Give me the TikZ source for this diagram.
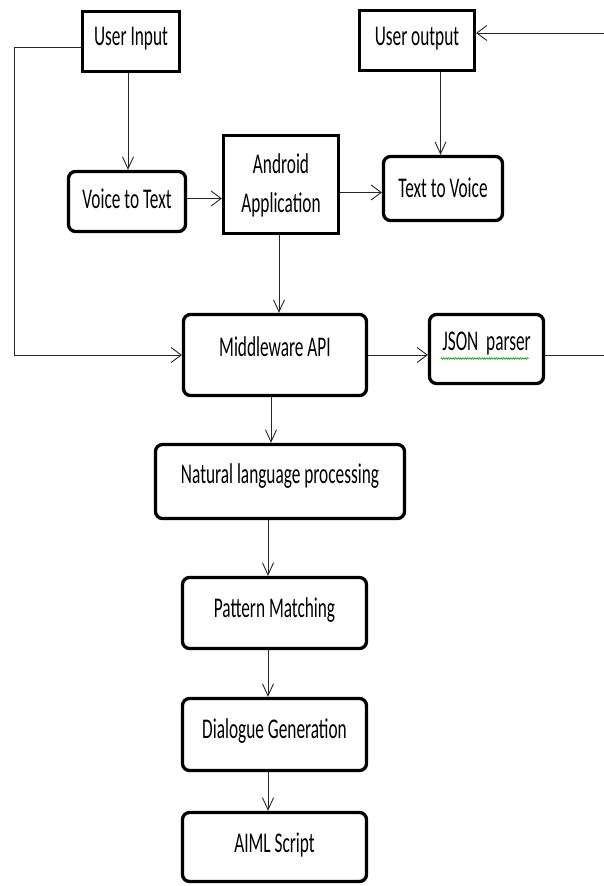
\documentclass[tikz,border=0pt]{standalone}
\usepackage{fontspec}
\setmainfont{Carlito}
\usetikzlibrary{arrows.meta,calc,decorations.pathmorphing}
\newcommand\bt[2]{\makebox[0pt]{\raisebox{#1}[0pt][0pt]{\scalebox{1}[1.65]{#2}}}}
\begin{document}
\begin{tikzpicture}[x=1pt,y=-1pt,
  every node/.style={font=\fontsize{17.3pt}{20pt}\selectfont, inner sep=0pt},
  sqbox/.style={draw=black, line width=3.3pt, fill=white},
  rbox/.style={draw=black, line width=3.3pt, fill=white, rounded corners=7pt},
  conn/.style={draw=black!85, line width=0.9pt},
  varr/.style={conn, -{Straight Barb[length=12pt,width=11pt,line width=0.9pt]}},
  harr/.style={conn, -{Straight Barb[length=10pt,width=15pt,line width=0.9pt]}}]
\useasboundingbox (0,0) rectangle (604,886);
\fill[white] (0,0) rectangle (604,886);

\node[sqbox, minimum width=97pt, minimum height=60pt] (ui) at (131,41.5) {\bt{-4pt}{User Input}};
\node[sqbox, minimum width=115pt, minimum height=60pt] (uo) at (417,40.5) {\bt{-5pt}{User output}};
\node[rbox, minimum width=117pt, minimum height=60pt] (vt) at (127,201.5) {\bt{-7pt}{Voice to Text}};
\node[sqbox, minimum width=115pt, minimum height=98pt] (and) at (281,184.5)
  {\bt{11pt}{Android}\bt{-28pt}{Application}};
\node[rbox, minimum width=119pt, minimum height=64pt] (tv) at (443,188.5) {\bt{-8.5pt}{Text to Voice}};
\node[rbox, minimum width=183pt, minimum height=81pt] (mw) at (275,355) {\bt{-1.5pt}{Middleware API}};
\node[rbox, minimum width=114pt, minimum height=69pt] (json) at (486.5,349) {\bt{-1.5pt}{JSON\ \ parser}};
\node[rbox, minimum width=249pt, minimum height=74pt] (nlp) at (280,481.5) {\bt{-1.5pt}{Natural language processing}};
\node[rbox, minimum width=184pt, minimum height=71pt] (pm) at (274.5,613) {\bt{-4pt}{Pattern Matching}};
\node[rbox, minimum width=184pt, minimum height=72pt] (dg) at (274.5,734.5) {\bt{-4pt}{Dialogue Generation}};
\node[rbox, minimum width=184pt, minimum height=69pt] (aiml) at (274.5,847) {\bt{-5pt}{AIML Script}};

\coordinate (ru) at (604,33);
\coordinate (rj) at (604,355);

% spell-check squiggle
\draw[green!60!black, line width=0.6pt, decorate, decoration={snake, amplitude=0.8pt, segment length=2.4pt}]
  ($(json.center)+(-46,9.5)$) -- ($(json.center)+(42,9.5)$);

\draw[varr] ([xshift=-3pt]ui.south) -- ([xshift=-3pt]ui.south |- vt.north);
\draw[varr] ([xshift=-2.5pt]tv.north |- uo.south) -- ([xshift=-2.5pt]tv.north);
\draw[harr] ([yshift=3pt]vt.east) -- ([yshift=3pt]vt.east -| and.west);
\draw[harr] ([yshift=-4pt]tv.west -| and.east) -- ([yshift=-4pt]tv.west);
\draw[varr] ([xshift=-2pt]and.south) -- ([xshift=-2pt]and.south |- mw.north);
\draw[harr] ([yshift=-5.5pt]ui.west) -| ([xshift=-167pt]mw.west) -- (mw.west);
\draw[harr] (mw.east) -- (mw.east -| json.west);
\draw[conn] (mw.east -| json.east) -- (rj);
\draw[harr] (ru) -- (ru -| uo.east);
\draw[varr] ([xshift=-4pt]mw.south) -- ([xshift=-4pt]mw.south |- nlp.north);
\draw[varr] ([xshift=-6.5pt]pm.north |- nlp.south) -- ([xshift=-6.5pt]pm.north);
\draw[varr] ([xshift=-6.5pt]pm.south) -- ([xshift=-6.5pt]dg.north);
\draw[varr] ([xshift=-6.5pt]dg.south) -- ([xshift=-6.5pt]aiml.north);
\end{tikzpicture}
\end{document}
